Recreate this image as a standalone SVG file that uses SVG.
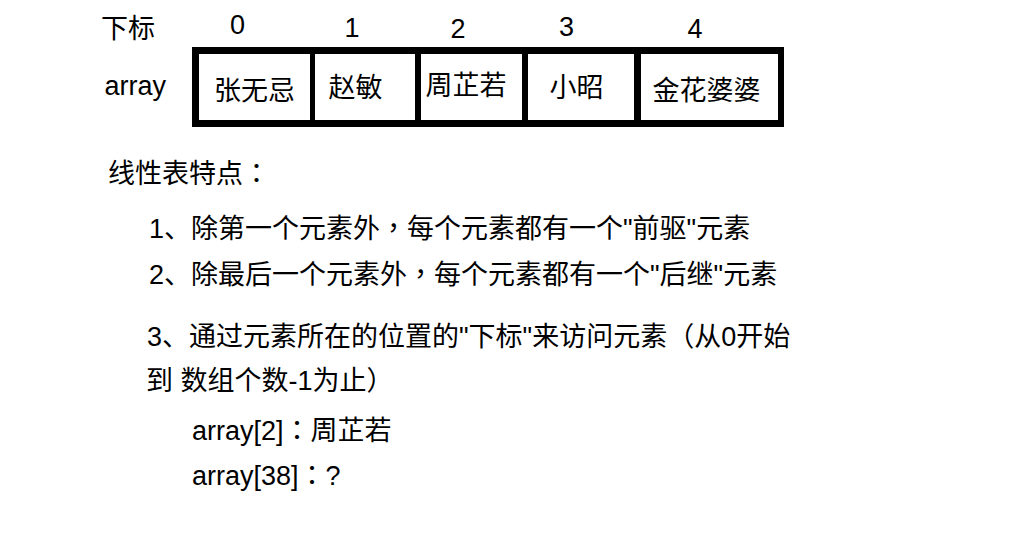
<svg xmlns="http://www.w3.org/2000/svg" width="1018" height="557" viewBox="0 0 1018 557">
<style>
  text { font-family: "Liberation Sans", "Noto Sans CJK SC", sans-serif; font-size: 27px; fill: #000; }
  .mid { text-anchor: middle; }
  .cell { fill: #fff; }
  .p { font-family: "Noto Sans CJK TC", sans-serif; }
</style>
<rect x="0" y="0" width="1018" height="557" fill="#fff"/>

<g id="labels">
  <text x="101" y="38">下标</text>
  <text x="104.5" y="95">array</text>
  <text class="mid" x="237.5" y="34">0</text>
  <text class="mid" x="352" y="37">1</text>
  <text class="mid" x="458" y="38">2</text>
  <text class="mid" x="566.5" y="36">3</text>
  <text class="mid" x="695" y="38">4</text>
</g>

<g id="array-frame">
  <rect x="192" y="47" width="592" height="80" fill="#000"/>
</g>

<g id="cell-0">
  <rect class="cell" x="199" y="54" width="111" height="66"/>
  <text class="mid" x="254.5" y="99.5">张无忌</text>
</g>
<g id="cell-1">
  <rect class="cell" x="315" y="54" width="100" height="66"/>
  <text class="mid" x="355.5" y="96.5">赵敏</text>
</g>
<g id="cell-2">
  <rect class="cell" x="421" y="54" width="101" height="66"/>
  <text class="mid" x="466" y="95">周芷若</text>
</g>
<g id="cell-3">
  <rect class="cell" x="528" y="54" width="106" height="66"/>
  <text class="mid" x="576.5" y="97">小昭</text>
</g>
<g id="cell-4">
  <rect class="cell" x="641" y="54" width="137" height="66"/>
  <text class="mid" x="706.5" y="99.5">金花婆婆</text>
</g>

<g id="connectors"></g>

<g id="notes">
  <text x="108" y="183">线性表特点<tspan class="p">：</tspan></text>
  <text x="149" y="237.5">1、除第一个元素外<tspan class="p">，</tspan>每个元素都有一个"前驱"元素</text>
  <text x="149" y="284">2、除最后一个元素外<tspan class="p">，</tspan>每个元素都有一个"后继"元素</text>
  <text x="147" y="346">3、通过元素所在的位置的"下标"来访问元素（从0开始</text>
  <text x="146" y="389.5">到 数组个数-1为止）</text>
  <text x="192" y="440">array[2]<tspan class="p">：</tspan>周芷若</text>
  <text x="192" y="485">array[38]<tspan class="p">：</tspan>?</text>
</g>
</svg>
